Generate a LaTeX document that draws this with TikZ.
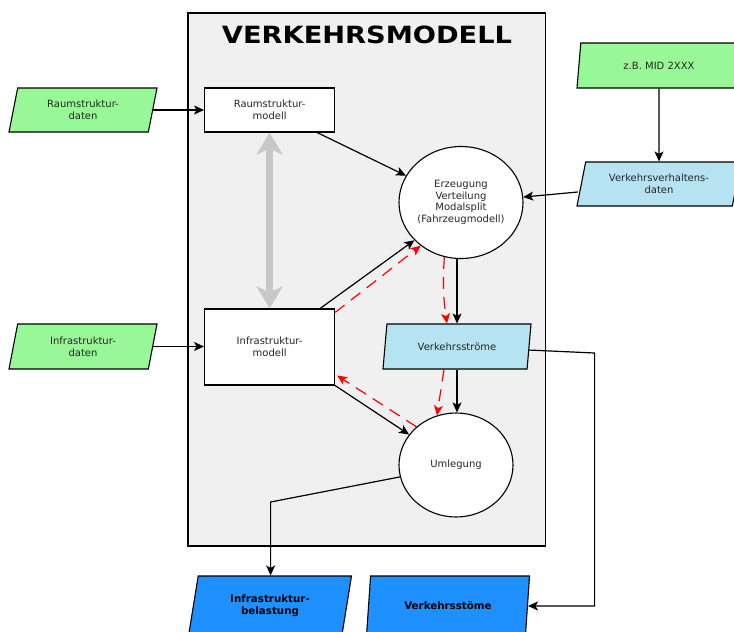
\documentclass[tikz,border=0pt]{standalone}
\usepackage{fontspec}
\setmainfont{DejaVu Sans}
\usetikzlibrary{shapes.geometric,arrows.meta,calc}
\definecolor{dgreen}{HTML}{98F898}
\definecolor{lblue}{HTML}{B5E3F2}
\definecolor{dblue}{HTML}{1E90FF}
\definecolor{boxbg}{HTML}{F0F0F0}
\definecolor{arrgray}{HTML}{C8C8C8}
\begin{document}
\begin{tikzpicture}[x=1pt,y=-1pt,
  every node/.style={font=\fontsize{10}{11.7}\selectfont, text=black!85},
  para/.style={trapezium, trapezium left angle=68, trapezium right angle=112,
    trapezium stretches body, draw=black, line width=1.1pt, align=center, inner sep=1pt},
  rectbox/.style={rectangle, draw=black, fill=white, line width=1.1pt, align=center, minimum width=130pt},
  ell/.style={ellipse, draw=black, fill=white, line width=1.1pt, align=center, inner sep=0pt},
  arr/.style={-{Stealth[length=10pt,width=9pt,inset=2.5pt]}, line width=1.2pt, black},
  rarr/.style={-{Stealth[length=10pt,width=9pt,inset=2.5pt]}, line width=1.2pt, red, dash pattern=on 12pt off 8pt},
  bold/.style={font=\fontsize{10.3}{12}\selectfont\bfseries, text=black}
]
\path[use as bounding box] (0,0) rectangle (734,632);
\clip (0,0) rectangle (734,632);
\fill[white] (0,0) rectangle (734,632);

% main frame
\node[draw=black, fill=boxbg, line width=1.2pt, minimum width=357.5pt, minimum height=533pt, inner sep=0pt] (mb) at (366.75,279.5) {};
\node[font=\fontsize{23.7}{26}\selectfont\bfseries, text=black] (title) at (367,35) {\scalebox{1.15}[1]{VERKEHRSMODELL}};

% data inputs
\node[para, fill=dgreen, minimum width=148pt, minimum height=44pt] (rsd) at (83,110) {Raumstruktur-\\daten};
\node[para, fill=dgreen, minimum width=148pt, minimum height=45pt] (isd) at (83,346.5) {Infrastruktur-\\daten};
\node[para, fill=dgreen, minimum width=164pt, minimum height=45pt] (mid) at (659,65.5) {z.B. MID 2XXX};
\node[para, fill=lblue, minimum width=164pt, minimum height=44pt] (vvd) at (659,184) {Verkehrsverhaltens-\\daten};

% models
\node[rectbox, minimum height=44pt] (rsm) at (269.6,110) {Raumstruktur-\\modell};
\node[rectbox, minimum height=76pt] (ism) at (269.6,347) {Infrastruktur-\\modell};
\node[ell, minimum width=124pt, minimum height=112pt] (erz) at (461,202.5) {Erzeugung\\Verteilung\\Modalsplit\\(Fahrzeugmodell)};
\node[para, fill=lblue, minimum width=148pt, minimum height=45pt] (vs) at (457,346.5) {Verkehrsströme};
\node[ell, minimum width=114pt, minimum height=104pt] (uml) at (456,465) {Umlegung};

% outputs
\node[para, fill=dblue, minimum width=163pt, minimum height=60pt, bold] (ib) at (270,606) {Infrastruktur-\\belastung};
\node[para, fill=dblue, minimum width=163pt, minimum height=60pt, bold] (vso) at (448,606) {Verkehrsstöme};

% coordinates for bends
\coordinate (c1) at (594.6,353);
\coordinate (c2) at (270.6,502);

% gray double arrow
\draw[line width=7pt, arrgray, {Stealth[length=22pt,width=26pt,inset=6pt]}-{Stealth[length=22pt,width=26pt,inset=6pt]}] (rsm.south) -- (ism.north);

% black connectors
\draw[arr] (rsd.east) -- (rsd.east -| rsm.west);
\draw[arr] (isd.east) -- (isd.east -| ism.west);
\draw[arr] (mid.south) -- (vvd.north);
\draw[arr] ($(vvd.west)+(-3,8)$) -- (erz.5);
\draw[arr] ($(rsm.south east)+(-18,0)$) -- (erz.154);
\draw[arr] ($(ism.north east)+(-15,0)$) -- (erz.219);
\draw[arr] (vs.north |- erz.south) -- (vs.north);
\draw[arr] (vs.south) -- (vs.south |- uml.north);
\draw[arr] (ism.south east) -- (uml.147);
\draw[arr] ($(vs.east)+(-1.5,3.5)$) -- (c1) |- (vso.east);
\draw[arr] (uml.192) -- (c2) -- (c2 |- ib.north);

% red dashed feedback
\draw[rarr] (erz.253) to[bend right=6] ($(vs.north)+(-10,0)$);
\draw[rarr] ($(vs.south)+(-13,0)$) -- (uml.111);
\draw[rarr] (uml.136) -- ($(ism.south east)+(2,-10)$);
\draw[rarr] ($(ism.north east)+(0,4)$) -- (erz.227);
\end{tikzpicture}
\end{document}
